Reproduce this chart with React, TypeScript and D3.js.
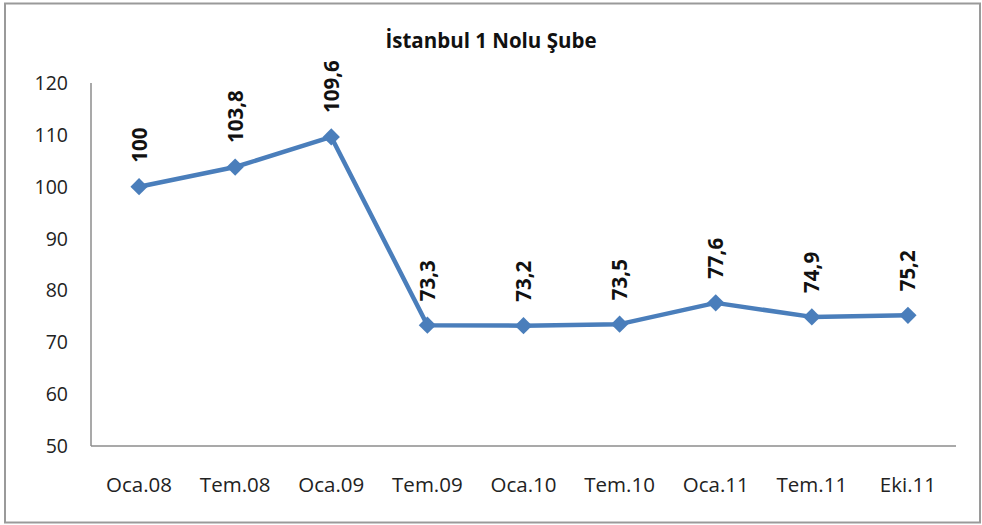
import React from "react";
import * as d3 from "d3";

const categories = ["Oca.08", "Tem.08", "Oca.09", "Tem.09", "Oca.10", "Tem.10", "Oca.11", "Tem.11", "Eki.11"];
const values = [100, 103.8, 109.6, 73.3, 73.2, 73.5, 77.6, 74.9, 75.2];
const labels = ["100", "103,8", "109,6", "73,3", "73,2", "73,5", "77,6", "74,9", "75,2"];
const yTicks = [50, 60, 70, 80, 90, 100, 110, 120];
const title = "İstanbul 1 Nolu Şube";

const W = 982;
const H = 525;
const left = 91;
const right = 956;
const top = 83;
const bottom = 446;
const font = "'Open Sans', 'Noto Sans', sans-serif";
const color = "#4a7ebb";

export default function App() {
  const x = d3.scaleBand<string>().domain(categories).range([left, right]);
  const y = d3.scaleLinear().domain([50, 120]).range([bottom, top]);
  const cx = (c: string) => (x(c) ?? 0) + x.bandwidth() / 2;
  const line = d3
    .line<number>()
    .x((_, i) => cx(categories[i]))
    .y((d) => y(d));
  const diamond = d3.symbol().type(d3.symbolDiamond2).size(190)();

  return (
    <svg width={W} height={H} style={{ position: "absolute", left: 0, top: 0 }}>
      <rect x={0} y={0} width={W} height={H} fill="#fff" />
      <rect x={5} y={3.5} width={975} height={519} fill="#fff" stroke="#9a9a9a" strokeWidth={2} />
      <text x={491} y={48} textAnchor="middle" fontFamily={font} fontWeight="bold" fontSize={20.5} fill="#111">
        {title}
      </text>
      <line x1={left} x2={left} y1={top} y2={bottom} stroke="#8c8c8c" strokeWidth={1.5} />
      <line x1={left} x2={right} y1={bottom} y2={bottom} stroke="#8c8c8c" strokeWidth={1.5} />
      {yTicks.map((t) => (
        <text key={t} x={68} y={y(t)} dy="0.36em" textAnchor="end" fontFamily={font} fontSize={19.5} fill="#222">
          {t}
        </text>
      ))}
      {categories.map((c) => (
        <text key={c} x={cx(c)} y={492} textAnchor="middle" fontFamily={font} fontSize={20.5} fill="#222">
          {c}
        </text>
      ))}
      <path d={line(values) ?? ""} fill="none" stroke={color} strokeWidth={4.5} strokeLinejoin="round" />
      {values.map((v, i) => (
        <path key={i} d={diamond ?? ""} transform={`translate(${cx(categories[i])},${y(v)})`} fill={color} />
      ))}
      {values.map((v, i) => {
        const px = cx(categories[i]);
        const py = y(v) - 24;
        return (
          <text
            key={"l" + i}
            transform={`translate(${px + 7.5},${py}) rotate(-90)`}
            textAnchor="start"
            fontFamily={font}
            fontWeight="bold"
            fontSize={20.5}
            fill="#111"
          >
            {labels[i]}
          </text>
        );
      })}
    </svg>
  );
}
